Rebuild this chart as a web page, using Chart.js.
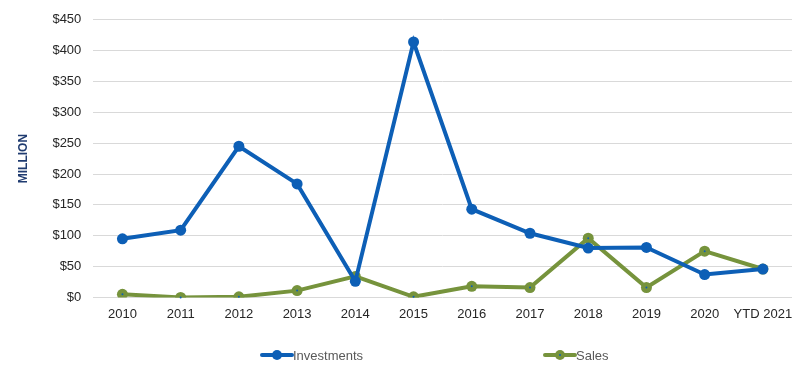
<!DOCTYPE html>
<html><head><meta charset="utf-8">
<script src="https://cdn.jsdelivr.net/npm/chart.js@4/dist/chart.umd.min.js"></script>
<style>html,body{margin:0;padding:0;background:#fff;}#wrap{width:803px;height:378px;}</style>
</head><body><div id="wrap"><canvas id="c" width="803" height="378"></canvas></div>
<script>
const categories = ['2010','2011','2012','2013','2014','2015','2016','2017','2018','2019','2020','YTD 2021'];
const investments = [95, 109, 245, 184, 26, 414, 143, 104, 80, 81, 37, 46];
const sales = [5, 0, 1, 11, 34, 1, 18, 16, 96, 16, 75, 46];
const yTicks = [0, 50, 100, 150, 200, 250, 300, 350, 400, 450];

const BLUE = '#0d5fb6';
const GREEN = '#76933c';
const FONT = "'Liberation Sans', Arial, sans-serif";

const legendPlugin = {
  id: 'customLegend',
  afterDraw(chart) {
    const ctx = chart.ctx;
    const items = [
      {label: 'Investments', color: BLUE, x: 262, inner: null},
      {label: 'Sales', color: GREEN, x: 545, inner: BLUE}
    ];
    const y = 355;
    ctx.save();
    items.forEach(it => {
      ctx.strokeStyle = it.color; ctx.lineWidth = 4; ctx.lineCap = 'round';
      ctx.beginPath(); ctx.moveTo(it.x, y); ctx.lineTo(it.x + 30, y); ctx.stroke();
      ctx.fillStyle = it.color;
      ctx.beginPath(); ctx.arc(it.x + 15, y, 5, 0, Math.PI * 2); ctx.fill();
      if (it.inner) { ctx.fillStyle = it.inner; ctx.beginPath(); ctx.arc(it.x + 15, y, 1, 0, Math.PI*2); ctx.fill(); }
      ctx.fillStyle = '#595959'; ctx.font = '13px ' + FONT; ctx.textBaseline = 'middle'; ctx.textAlign = 'left';
      ctx.fillText(it.label, it.x + 31, y + 1);
    });
    ctx.restore();
  }
};

const centerDot = {
  id: 'centerDot',
  afterDatasetsDraw(chart) {
    const meta = chart.getDatasetMeta(1);
    const ctx = chart.ctx;
    ctx.save(); ctx.fillStyle = BLUE;
    meta.data.forEach(p => { ctx.beginPath(); ctx.arc(p.x, p.y, 1, 0, Math.PI*2); ctx.fill(); });
    ctx.restore();
  }
};

new Chart(document.getElementById('c'), {
  type: 'line',
  data: {
    labels: categories,
    datasets: [
      {label: 'Investments', data: investments, borderColor: BLUE, backgroundColor: BLUE,
       borderWidth: 4, pointRadius: 5.5, pointHoverRadius: 5.5, pointBackgroundColor: BLUE, pointBorderWidth: 0, tension: 0},
      {label: 'Sales', data: sales, borderColor: GREEN, backgroundColor: GREEN,
       borderWidth: 4, pointRadius: 5.5, pointHoverRadius: 5.5, pointBackgroundColor: GREEN, pointBorderWidth: 0, tension: 0}
    ]
  },
  options: {
    responsive: false, animation: false, devicePixelRatio: 1,
    layout: {padding: {left: 16, right: 11, top: 19, bottom: 47}},
    plugins: {legend: {display: false}, tooltip: {enabled: false}},
    scales: {
      x: {
        offset: true,
        grid: {display: false, drawTicks: false},
        border: {display: false},
        ticks: {color: '#262626', font: {family: FONT, size: 13}, padding: 9, maxRotation: 0, autoSkip: false}
      },
      y: {
        min: 0, max: 450,
        afterBuildTicks(axis) { axis.ticks = yTicks.map(v => ({value: v})); },
        grid: {color: '#d9d9d9', lineWidth: 1, drawTicks: false},
        border: {display: false},
        ticks: {color: '#262626', font: {family: FONT, size: 13}, padding: 12, callback: v => '$' + v},
        title: {display: true, text: 'MILLION', color: '#1f3b70', font: {family: FONT, size: 12, weight: 'bold'}, padding: {top: 0, bottom: 10}}
      }
    }
  },
  plugins: [legendPlugin, centerDot]
});
</script>
</body></html>
